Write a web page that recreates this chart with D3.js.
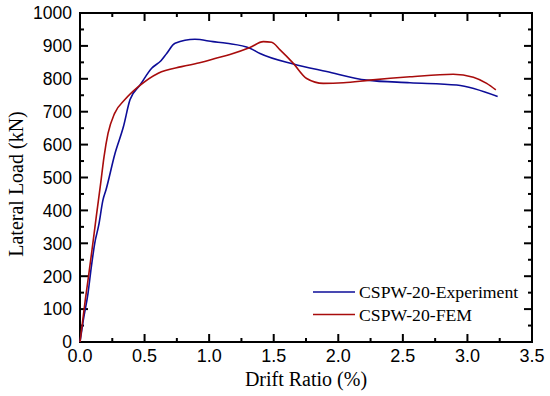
<!DOCTYPE html>
<html><head><meta charset="utf-8">
<script src="https://cdn.jsdelivr.net/npm/d3@7/dist/d3.min.js"></script>
<style>body{margin:0;background:#fff}svg{display:block}</style>
</head><body>
<svg id="c" width="550" height="396"></svg>
<script>
const expDrift = [0,0.026,0.062,0.088,0.114,0.145,0.178,0.201,0.271,0.336,0.387,0.465,0.555,0.627,0.671,0.736,0.89,1.03,1.136,1.316,1.394,1.652,1.91,2.22,2.555,2.917,3.234];
const expLoad  = [0,67,148,229,300,355,432,462,573,654,736,781,832,855,877,908,920,913,908,893,877,845,822,796,788,781,746];
const femDrift = [0,0.041,0.062,0.093,0.126,0.16,0.186,0.217,0.268,0.346,0.452,0.606,0.787,0.942,1.045,1.161,1.316,1.42,1.484,1.549,1.652,1.755,1.884,2.04,2.246,2.555,2.89,3.046,3.149,3.22];
const femLoad  = [0,128,188,280,381,482,563,634,695,736,776,817,837,850,862,874,895,913,911,888,847,801,786,788,796,806,814,805,786,766];
const xTicks = [0,0.5,1.0,1.5,2.0,2.5,3.0,3.5];
const yTicks = [0,100,200,300,400,500,600,700,800,900,1000];
const seriesNames = ["CSPW-20-Experiment","CSPW-20-FEM"];
const colors = ["#0d0d98","#a80c0c"];

const svg = d3.select("#c");
const L=80,R=532,T=13,B=342;
const x = d3.scaleLinear().domain([0,3.5]).range([L,R]);
const y = d3.scaleLinear().domain([0,1000]).range([B,T]);

const minorX = d3.range(0,3.5001,0.25), minorY = d3.range(0,1000.1,50);
const g = svg.append("g");
minorX.forEach(v=>{const maj=xTicks.some(t=>Math.abs(t-v)<1e-6);const len=maj?8:4;
  g.append("line").attr("x1",x(v)).attr("x2",x(v)).attr("y1",B).attr("y2",B-len);
  g.append("line").attr("x1",x(v)).attr("x2",x(v)).attr("y1",T).attr("y2",T+len);});
minorY.forEach(v=>{const maj=yTicks.some(t=>Math.abs(t-v)<1e-6);const len=maj?8:4;
  g.append("line").attr("y1",y(v)).attr("y2",y(v)).attr("x1",L).attr("x2",L+len);
  g.append("line").attr("y1",y(v)).attr("y2",y(v)).attr("x1",R).attr("x2",R-len);});
g.selectAll("line").attr("stroke","#000").attr("stroke-width",2);

svg.append("rect").attr("x",L).attr("y",T).attr("width",R-L).attr("height",B-T)
  .attr("fill","none").attr("stroke","#000").attr("stroke-width",2);

svg.append("g").selectAll("text").data(xTicks).join("text")
  .attr("x",d=>x(d)).attr("y",362).attr("text-anchor","middle")
  .attr("font-family","Liberation Sans, Arial, sans-serif").attr("font-size",18)
  .text(d=>d.toFixed(1));
svg.append("g").selectAll("text").data(yTicks).join("text")
  .attr("x",L-8).attr("y",d=>y(d)+6.3).attr("text-anchor","end")
  .attr("font-family","Liberation Sans, Arial, sans-serif").attr("font-size",17.5)
  .text(d=>d);

svg.append("text").attr("x",(L+R)/2).attr("y",386).attr("text-anchor","middle")
  .attr("font-family","Liberation Serif, Times New Roman, serif").attr("font-size",20)
  .text("Drift Ratio (%)");
svg.append("text").attr("transform",`translate(23,184) rotate(-90)`).attr("text-anchor","middle")
  .attr("font-family","Liberation Serif, Times New Roman, serif").attr("font-size",20)
  .text("Lateral Load (kN)");

const line = d3.line().x(d=>x(d[0])).y(d=>y(d[1])).curve(d3.curveMonotoneX);
const data = [d3.zip(expDrift,expLoad), d3.zip(femDrift,femLoad)];
data.forEach((d,i)=>{
  svg.append("path").datum(d).attr("d",line).attr("fill","none")
    .attr("stroke",colors[i]).attr("stroke-width",1.6);
});

const leg = svg.append("g");
seriesNames.forEach((n,i)=>{
  const yy = 292 + i*22.5;
  leg.append("line").attr("x1",313).attr("x2",355).attr("y1",yy).attr("y2",yy)
    .attr("stroke",colors[i]).attr("stroke-width",1.6);
  leg.append("text").attr("x",359).attr("y",yy+6.3)
    .attr("font-family","Liberation Serif, Times New Roman, serif").attr("font-size",17.7)
    .text(n);
});
</script>
</body></html>
